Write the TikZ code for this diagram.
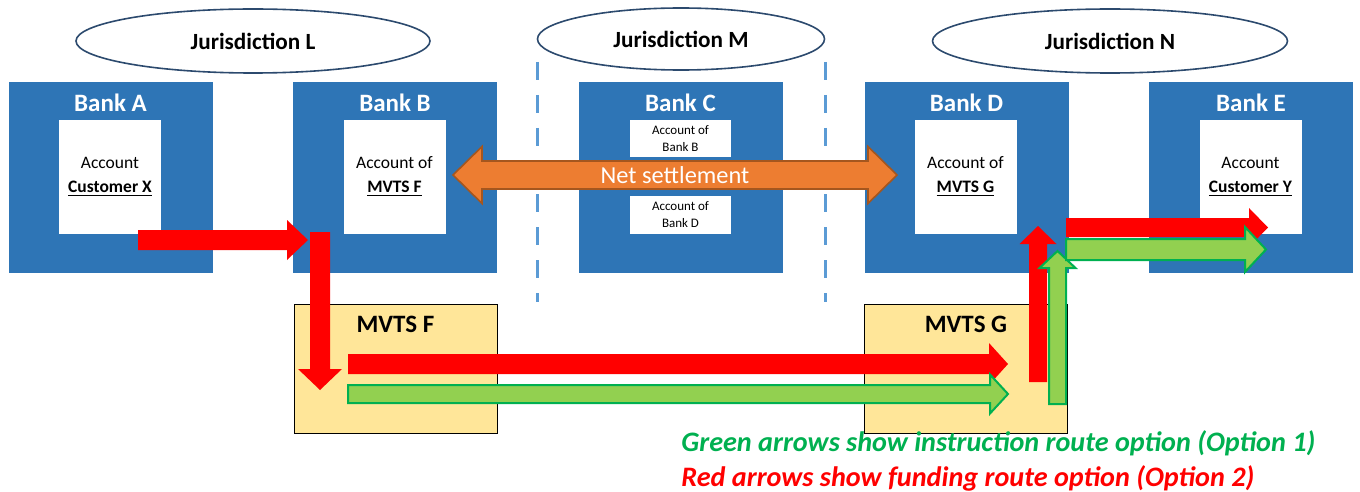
\documentclass[tikz,border=0pt]{standalone}
\usepackage{fontspec}
\setmainfont{Carlito}
\usetikzlibrary{calc,shapes.geometric}

\definecolor{bankblue}{HTML}{2E75B6}
\definecolor{ovalline}{HTML}{2C4A6E}
\definecolor{settleorange}{HTML}{ED7D31}
\definecolor{settleedge}{HTML}{A5561E}
\definecolor{mvtsyellow}{HTML}{FFE699}
\definecolor{routegreen}{HTML}{92D050}
\definecolor{routeedge}{HTML}{00B050}
\definecolor{zoneblue}{HTML}{5B9BD5}

\tikzset{
  % block arrow: half shaft, half head, head length
  blockarrow/.style n args={3}{to path={
    -- ($(\tikztostart)!#1!90:(\tikztotarget)$)
    -- ($(\tikztotarget)!#3!(\tikztostart)!#1!-90:(\tikztostart)$)
    -- ($(\tikztotarget)!#3!(\tikztostart)!#2!-90:(\tikztostart)$)
    -- (\tikztotarget)
    -- ($(\tikztotarget)!#3!(\tikztostart)!#2!90:(\tikztostart)$)
    -- ($(\tikztotarget)!#3!(\tikztostart)!#1!90:(\tikztostart)$)
    -- ($(\tikztostart)!#1!-90:(\tikztotarget)$)
    -- cycle}},
  % same with a head at both ends
  dblarrow/.style n args={3}{to path={
    -- ($(\tikztostart)!#3!(\tikztotarget)!#2!90:(\tikztotarget)$)
    -- ($(\tikztostart)!#3!(\tikztotarget)!#1!90:(\tikztotarget)$)
    -- ($(\tikztotarget)!#3!(\tikztostart)!#1!-90:(\tikztostart)$)
    -- ($(\tikztotarget)!#3!(\tikztostart)!#2!-90:(\tikztostart)$)
    -- (\tikztotarget)
    -- ($(\tikztotarget)!#3!(\tikztostart)!#2!90:(\tikztostart)$)
    -- ($(\tikztotarget)!#3!(\tikztostart)!#1!90:(\tikztostart)$)
    -- ($(\tikztostart)!#3!(\tikztotarget)!#1!-90:(\tikztotarget)$)
    -- ($(\tikztostart)!#3!(\tikztotarget)!#2!-90:(\tikztotarget)$)
    -- cycle}},
  bank/.style={fill=bankblue, minimum width=102pt, minimum height=95.5pt, inner sep=0pt},
  banktitle/.style={text=white, font=\bfseries\fontsize{12.5}{14}\selectfont, inner sep=0pt},
  account/.style={fill=white, minimum width=51pt, minimum height=57pt, align=center,
    inner sep=0pt, font=\fontsize{8.75}{12}\selectfont},
  subaccount/.style={fill=white, minimum width=50.5pt, minimum height=18.75pt, align=center,
    inner sep=0pt, font=\fontsize{6.5}{8.5}\selectfont},
  jurisdiction/.style={ellipse, draw=ovalline, line width=0.8pt, fill=white, inner sep=0pt,
    font=\bfseries\fontsize{11.6}{13}\selectfont},
  mvts/.style={fill=mvtsyellow, draw=black, line width=0.5pt, minimum width=101.5pt,
    minimum height=64.5pt, inner sep=0pt},
  mvtstitle/.style={font=\bfseries\fontsize{12.5}{14}\selectfont, inner sep=0pt},
  redroute/.style={fill=red, draw=none},
  greenroute/.style={fill=routegreen, draw=routeedge, line width=1pt},
  settle/.style={fill=settleorange, draw=settleedge, line width=0.8pt},
  zoneline/.style={draw=zoneblue, line width=1.75pt, dash pattern=on 9pt off 7.5pt},
  legend/.style={font=\bfseries\itshape\fontsize{14.1}{16}\selectfont, anchor=west, inner sep=0pt},
}

\begin{document}
\begin{tikzpicture}[x=0.5pt, y=-0.5pt]
  \useasboundingbox (0,0) rectangle (1360,492);

  %% borders of jurisdiction M
  \draw[zoneline] (537.5,62) -- (537.5,302);
  \draw[zoneline] (825.5,62) -- (825.5,302);

  %% jurisdictions
  \node[jurisdiction, minimum width=177pt, minimum height=32pt] (jurL) at (253,41) {Jurisdiction L};
  \node[jurisdiction, minimum width=143.5pt, minimum height=31pt] (jurM) at (681,39) {Jurisdiction M};
  \node[jurisdiction, minimum width=177.5pt, minimum height=32pt] (jurN) at (1110,41) {Jurisdiction N};

  %% banks
  \node[bank] (bankA) at (110.5,177.5) {};
  \node[bank] (bankB) at (395,177.5) {};
  \node[bank] (bankC) at (680.5,177.5) {};
  \node[bank] (bankD) at (966.5,177.5) {};
  \node[bank] (bankE) at (1251,177.5) {};
  \node[banktitle] (titleA) at ([yshift=-10.5pt]bankA.north) {Bank A};
  \node[banktitle] (titleB) at ([yshift=-10.5pt]bankB.north) {Bank B};
  \node[banktitle] (titleC) at ([yshift=-10.5pt]bankC.north) {Bank C};
  \node[banktitle] (titleD) at ([yshift=-10.5pt]bankD.north) {Bank D};
  \node[banktitle] (titleE) at ([yshift=-10.5pt]bankE.north) {Bank E};

  %% accounts
  \node[account] (accX) at (110,177) {Account\\\underline{\textbf{Customer X}}};
  \node[account] (accF) at (394.5,177) {Account of\\\underline{\textbf{MVTS F}}};
  \node[account] (accG) at (965.5,177) {Account of\\\underline{\textbf{MVTS G}}};
  \node[account] (accY) at (1250.5,177) {Account\\\underline{\textbf{Customer Y}}};
  \node[subaccount] (accBankB) at (680.5,138.5) {Account of\\Bank B};
  \node[subaccount] (accBankD) at (680.5,215) {Account of\\Bank D};

  %% MVTS
  \node[mvts] (mvtsF) at (395.5,368.5) {};
  \node[mvts] (mvtsG) at (966,368.5) {};
  \node[mvtstitle] (nameF) at ([yshift=-10.5pt]mvtsF.north) {MVTS F};
  \node[mvtstitle] (nameG) at ([yshift=-10.5pt]mvtsG.north) {MVTS G};

  %% net settlement B <-> D
  \coordinate (setB) at (453,175);
  \coordinate (setD) at (897,175);
  \draw[settle] (setB) to[dblarrow={7pt}{14.25pt}{14.5pt}] (setD);
  \node[text=white, font=\fontsize{12.2}{14}\selectfont, inner sep=0pt] (net) at ($(setB)!0.5!(setD)$) {Net settlement};

  %% funding route
  \coordinate (xOut) at (138,240);
  \coordinate (xIn) at (308,240);
  \coordinate (fTop) at (320,232);
  \coordinate (fBot) at (320,390);
  \coordinate (fRed) at (348,364);
  \coordinate (gRed) at (1008,364);
  \coordinate (gRedUp) at (1038,382);
  \coordinate (dRed) at (1038,226);
  \coordinate (dRedOut) at (1066,227.5);
  \coordinate (yRed) at (1268,227.5);
  \path[redroute] (xOut) to[blockarrow={5pt}{10pt}{10.5pt}] (xIn);
  \path[redroute] (fTop) to[blockarrow={5pt}{11pt}{10.5pt}] (fBot);
  \path[redroute] (fRed) to[blockarrow={5pt}{10.5pt}{9.5pt}] (gRed);
  \path[redroute] (gRedUp) to[blockarrow={4.5pt}{9.25pt}{9pt}] (dRed);
  \path[redroute] (dRedOut) to[blockarrow={4.75pt}{9.75pt}{9.5pt}] (yRed);

  %% instruction route
  \coordinate (fGrn) at (348,394);
  \coordinate (gGrn) at (1008,394);
  \coordinate (gGrnUp) at (1057.5,404);
  \coordinate (dGrn) at (1057.5,251);
  \coordinate (dGrnOut) at (1066,249.5);
  \coordinate (yGrn) at (1266,249.5);
  \draw[greenroute] (fGrn) to[blockarrow={4.5pt}{9.75pt}{9pt}] (gGrn);
  \draw[greenroute] (gGrnUp) to[blockarrow={4.25pt}{9pt}{8.5pt}] (dGrn);
  \draw[greenroute] (dGrnOut) to[blockarrow={5.25pt}{11.25pt}{10.5pt}] (yGrn);

  %% key
  \node[legend, text=routeedge] (keyGreen) at (681,443) {Green arrows show instruction route option (Option 1)};
  \node[legend, text=red] (keyRed) at (681,478) {Red arrows show funding route option (Option 2)};
\end{tikzpicture}
\end{document}
